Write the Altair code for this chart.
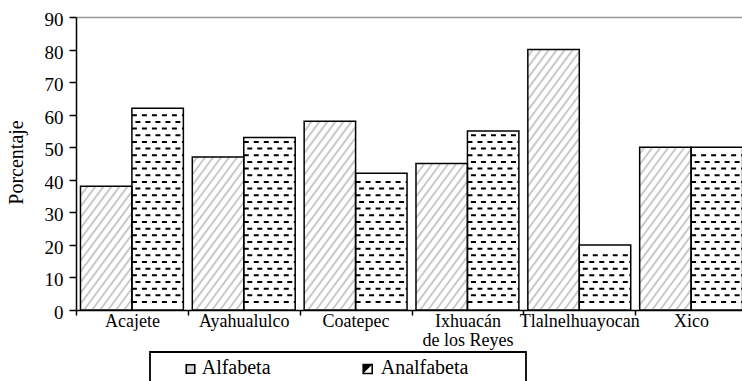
import json
import math

import altair as alt
import pandas as pd

# Literacy by municipality (percentage of population)
categorias = ["Acajete", "Ayahualulco", "Coatepec", "Ixhuacán\nde los Reyes",
              "Tlalnelhuayocan", "Xico"]
series = ["Alfabeta", "Analfabeta"]
alfabeta = [38, 47, 58, 45, 80, 50]
analfabeta = [62, 53, 42, 55, 20, 50]
y_ticks = [0, 10, 20, 30, 40, 50, 60, 70, 80, 90]

# Layout / style constants
PLOT_W, PLOT_H = 666, 293
X_MAX = 5.955          # the last group runs slightly past the right edge
Y_MAX = 90
GAP = 0.04             # empty space on each side of a category group
SX = PLOT_W / X_MAX    # pixels per category unit
SY = PLOT_H / Y_MAX    # pixels per percentage point
FONT = "Liberation Serif"
HATCH_STEP = 8.0       # horizontal spacing of the diagonal hatch (px)
HATCH_SLOPE = 1.35     # rise over run of the hatch lines
DASH_ROW_START = 8.0   # first dashed row above the baseline (px)
DASH_ROW_STEP = 6.67   # vertical spacing of dashed rows (px)

# Bar table: one rectangle per municipality and series
bar_rows = []
for i, (cat, a, b) in enumerate(zip(categorias, alfabeta, analfabeta)):
    bar_rows.append({"cat": cat, "serie": series[0], "x0": i + GAP, "x1": i + 0.5, "valor": a})
    bar_rows.append({"cat": cat, "serie": series[1], "x0": i + 0.5, "x1": i + 1 - GAP, "valor": b})
bars = pd.DataFrame(bar_rows)

# Diagonal hatch segments clipped to each "Alfabeta" bar
hatch_rows = []
for r in bar_rows:
    if r["serie"] != series[0]:
        continue
    px0, px1, ph = r["x0"] * SX, r["x1"] * SX, r["valor"] * SY
    n0 = math.floor((px0 - ph / HATCH_SLOPE) / HATCH_STEP)
    n1 = math.ceil(px1 / HATCH_STEP)
    for n in range(n0, n1 + 1):
        c = n * HATCH_STEP
        xa = max(px0, c)
        xb = min(px1, c + ph / HATCH_SLOPE)
        if xb - xa > 0.5:
            hatch_rows.append({
                "hx0": xa / SX, "hy0": HATCH_SLOPE * (xa - c) / SY,
                "hx1": xb / SX, "hy1": HATCH_SLOPE * (xb - c) / SY,
            })
hatch = pd.DataFrame(hatch_rows)

# Dashed horizontal rows inside each "Analfabeta" bar
dash_rows = []
for r in bar_rows:
    if r["serie"] != series[1]:
        continue
    ph = r["valor"] * SY
    j = 0
    py = DASH_ROW_START
    while py <= ph - 4:
        dash_rows.append({"dx0": r["x0"], "dx1": r["x1"], "dy": py / SY, "fila": j % 2})
        j += 1
        py = DASH_ROW_START + j * DASH_ROW_STEP
dashes = pd.DataFrame(dash_rows)

x_scale = alt.Scale(domain=[0, X_MAX], nice=False, zero=False)
y_scale = alt.Scale(domain=[0, Y_MAX], nice=False)

cats_js = json.dumps(categorias, ensure_ascii=False)
x_axis = alt.Axis(
    values=[i * 0.5 for i in range(2 * len(categorias))],
    labelExpr=f"datum.value % 1 === 0 ? '' : split({cats_js}[floor(datum.value)], '\\n')",
    labelFont=FONT, labelFontSize=18, labelColor="black", labelAngle=0,
    labelAlign="center", labelBaseline="top", labelPadding=-3, labelLineHeight=19,
    labelFlush=False, labelOverlap=False, labelBound=False,
    tickSize=5, tickWidth=1.5, tickColor="black",
    tickOpacity={"condition": {"test": "datum.value % 1 === 0", "value": 1}, "value": 0},
    domainColor="black", domainWidth=1.5, grid=False,
)
y_axis = alt.Axis(
    values=y_ticks, title="Porcentaje",
    titleFont=FONT, titleFontSize=20, titleFontWeight="normal", titleColor="black",
    titleAngle=270, titleX=-54, titleY=145, titleAlign="center", titleBaseline="alphabetic",
    labelFont=FONT, labelFontSize=19, labelColor="black", labelPadding=6, labelOffset=2.5,
    labelFlush=False, labelOverlap=False,
    tickSize=7, tickWidth=1.5, tickColor="black",
    domainColor="black", domainWidth=1.5,
    grid=True, gridColor="#999999", gridWidth=1.5,
    gridOpacity={"condition": {"test": f"datum.value === {Y_MAX}", "value": 1}, "value": 0},
)


def X(field):
    return alt.X(field, type="quantitative", scale=x_scale, axis=x_axis, title=None)


def Y(field):
    return alt.Y(field, type="quantitative", scale=y_scale, axis=y_axis, title="Porcentaje")


base_fill = alt.Chart(bars).mark_rect(fill="white", strokeWidth=0).encode(
    x=X("x0"), x2="x1", y=Y("valor"), y2=alt.datum(0)
)

hatch_layer = alt.Chart(hatch).mark_rule(color="#c9c9c9", strokeWidth=2).encode(
    x=X("hx0"), x2="hx1", y=Y("hy0"), y2="hy1"
)

dash_even = alt.Chart(dashes).transform_filter("datum.fila === 0").mark_rule(
    color="black", strokeWidth=2, strokeDash=[5, 5], strokeDashOffset=0
).encode(x=X("dx0"), x2="dx1", y=Y("dy"))

dash_odd = alt.Chart(dashes).transform_filter("datum.fila === 1").mark_rule(
    color="black", strokeWidth=2, strokeDash=[5, 5], strokeDashOffset=6.5
).encode(x=X("dx0"), x2="dx1", y=Y("dy"))

outline = alt.Chart(bars).mark_rect(
    fillOpacity=0, stroke="black", strokeWidth=1.5
).encode(x=X("x0"), x2="x1", y=Y("valor"), y2=alt.datum(0))

# Legend drawn below the plot
legend_df = pd.DataFrame({"serie": series})
legend_box = alt.Chart(legend_df.head(1)).mark_rect(
    fill="white", stroke="black", strokeWidth=1.8
).encode(x=alt.value(74), x2=alt.value(450), y=alt.value(335), y2=alt.value(400))

sym_alfa = alt.Chart(legend_df.head(1)).mark_square(
    size=72, fill="#d6d6d6", stroke="black", strokeWidth=1.6, opacity=1
).encode(x=alt.value(114.5), y=alt.value(352))

sym_anal = alt.Chart(legend_df.head(1)).mark_square(
    size=81, fill="white", stroke="black", strokeWidth=1.6, opacity=1
).encode(x=alt.value(291.7), y=alt.value(352))

sym_anal_fill = alt.Chart(legend_df.head(1)).mark_point(
    shape="M-1,-1L1,-1L-1,1Z", filled=True, fill="black", size=81, opacity=1, strokeWidth=0
).encode(x=alt.value(291.7), y=alt.value(352))

text_alfa = alt.Chart(legend_df).transform_filter(
    alt.datum.serie == series[0]
).mark_text(font=FONT, fontSize=20, align="left", baseline="alphabetic", color="black").encode(
    x=alt.value(125.7), y=alt.value(356.5), text="serie:N"
)

text_anal = alt.Chart(legend_df).transform_filter(
    alt.datum.serie == series[1]
).mark_text(font=FONT, fontSize=20, align="left", baseline="alphabetic", color="black").encode(
    x=alt.value(304.7), y=alt.value(356.5), text="serie:N"
)

chart = alt.layer(
    base_fill, hatch_layer, dash_even, dash_odd, outline,
    legend_box, sym_alfa, sym_anal, sym_anal_fill, text_alfa, text_anal,
).properties(
    width=PLOT_W, height=PLOT_H,
    autosize=alt.AutoSizeParams(type="none"),
    padding={"left": 76, "top": 17, "right": 0, "bottom": 71},
    background="white",
).configure_view(strokeWidth=0)

chart.save("out.html", embed_options={"renderer": "svg", "actions": False})
